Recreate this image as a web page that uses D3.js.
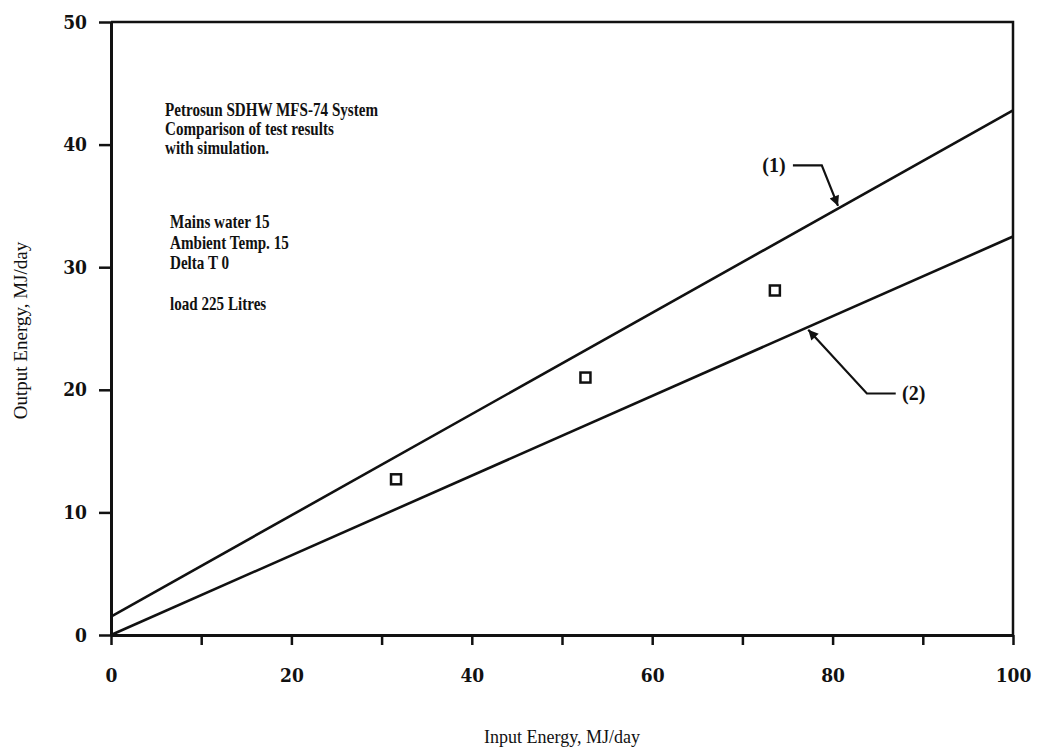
<!DOCTYPE html>
<html>
<head>
<meta charset="utf-8">
<script src="https://cdn.jsdelivr.net/npm/d3@7"></script>
<style>
  body { margin: 0; background: #fff; }
  text { font-family: "Liberation Serif", "DejaVu Serif", serif; fill: #111; }
</style>
</head>
<body>
<div id="chart"></div>
<script>
// simulation lines (1) and (2), end points at input 0 and 100
var lineX = [0, 100];
var sim1 = [1.5, 42.8];
var sim2 = [0, 32.5];

// test results
var testX = [31.6, 52.6, 73.6];
var testY = [12.7, 21.0, 28.1];

var xTicks = [0, 10, 20, 30, 40, 50, 60, 70, 80, 90, 100];
var xLabels = [0, 20, 40, 60, 80, 100];
var yTicks = [0, 10, 20, 30, 40, 50];

var notes1 = ["Petrosun SDHW MFS-74 System", "Comparison of test results", "with simulation."];
var notes2 = ["Mains water 15", "Ambient Temp. 15", "Delta T 0", "", "load 225 Litres"];

var W = 1038, H = 755;
var margin = { top: 22, left: 111, bottom: 120, right: 25 };
var width = W - margin.left - margin.right;
var height = H - margin.top - margin.bottom;

var svg = d3.select("#chart").append("svg")
    .attr("width", W)
    .attr("height", H)
    .append("g")
    .attr("transform", "translate(" + margin.left + "," + margin.top + ")");

var x = d3.scaleLinear().domain([0, 100]).range([0, width]);
var y = d3.scaleLinear().domain([0, 50]).range([height, 0]);

// frame (top and right)
svg.append("path")
    .attr("d", "M0,0H" + width + "V" + height)
    .attr("fill", "none")
    .attr("stroke", "#111")
    .attr("stroke-width", 2.5);

var xAxis = svg.append("g")
    .attr("transform", "translate(0," + height + ")")
    .call(d3.axisBottom(x).tickValues(xTicks).tickSize(10).tickSizeOuter(0)
        .tickFormat(function (d) { return xLabels.indexOf(d) >= 0 ? d : ""; }));

var yAxis = svg.append("g")
    .call(d3.axisLeft(y).tickValues(yTicks).tickSize(12).tickSizeOuter(0));

[xAxis, yAxis].forEach(function (g) {
    g.select(".domain").attr("stroke", "#111").attr("stroke-width", 3);
    g.selectAll(".tick line").attr("stroke", "#111").attr("stroke-width", 2.5);
    g.selectAll(".tick text")
        .style("font-family", '"DejaVu Serif Condensed", "DejaVu Serif", serif')
        .style("font-weight", "bold")
        .style("font-size", "19px")
        .attr("fill", "#111");
});
xAxis.selectAll(".tick text").attr("y", 34);
yAxis.selectAll(".tick text").attr("x", -24);

// simulation lines
var line = d3.line()
    .x(function (d) { return x(d[0]); })
    .y(function (d) { return y(d[1]); });

[sim1, sim2].forEach(function (s) {
    svg.append("path")
        .datum(lineX.map(function (v, i) { return [v, s[i]]; }))
        .attr("d", line)
        .attr("fill", "none")
        .attr("stroke", "#111")
        .attr("stroke-width", 2.6);
});

// test points
svg.selectAll(".pt")
    .data(testX.map(function (v, i) { return [v, testY[i]]; }))
    .enter().append("rect")
    .attr("class", "pt")
    .attr("x", function (d) { return x(d[0]) - 5; })
    .attr("y", function (d) { return y(d[1]) - 5; })
    .attr("width", 10)
    .attr("height", 10)
    .attr("fill", "#fff")
    .attr("stroke", "#111")
    .attr("stroke-width", 2.5);

// arrow markers
svg.append("defs").append("marker")
    .attr("id", "head")
    .attr("viewBox", "0 0 10 10")
    .attr("refX", 10).attr("refY", 5)
    .attr("markerWidth", 16).attr("markerHeight", 10)
    .attr("markerUnits", "userSpaceOnUse")
    .attr("orient", "auto")
    .append("path")
    .attr("d", "M0,0L10,5L0,10Z")
    .attr("fill", "#111");

var callouts = [
    { label: "(1)", lx: 74.8, ly: 38.3, anchor: "end", pts: [[75.6, 38.3], [78.8, 38.3], [80.6, 35.0]] },
    { label: "(2)", lx: 87.7, ly: 19.7, anchor: "start", pts: [[87.0, 19.7], [83.8, 19.7], [77.3, 24.9]] }
];

callouts.forEach(function (c) {
    svg.append("path")
        .datum(c.pts)
        .attr("d", line)
        .attr("fill", "none")
        .attr("stroke", "#111")
        .attr("stroke-width", 2.2)
        .attr("marker-end", "url(#head)");
    svg.append("text")
        .attr("x", x(c.lx))
        .attr("y", y(c.ly))
        .attr("dy", "0.35em")
        .attr("text-anchor", c.anchor)
        .style("font-size", "20px")
        .style("font-weight", "bold")
        .text(c.label);
});

// notes, set in a tall narrow face like the original typewriter
function notes(lines, lx, top, step) {
    svg.append("g").selectAll("text")
        .data(lines)
        .enter().append("text")
        .attr("transform", function (d, i) {
            return "translate(" + lx + "," + (top + i * step) + ") scale(0.84,1)";
        })
        .style("font-size", "18px")
        .style("font-weight", "bold")
        .text(function (d) { return d; });
}
notes(notes1, 165 - margin.left, 116 - margin.top, 19);
notes(notes2, 170 - margin.left, 228 - margin.top, 20.5);

// axis titles
svg.append("text")
    .attr("x", width / 2)
    .attr("y", height + 108)
    .attr("text-anchor", "middle")
    .style("font-size", "18px")
    .text("Input Energy, MJ/day");

svg.append("text")
    .attr("transform", "translate(" + (-84) + "," + (height / 2 + 2) + ") rotate(-90)")
    .attr("text-anchor", "middle")
    .style("font-size", "19px")
    .text("Output Energy, MJ/day");
</script>
</body>
</html>
